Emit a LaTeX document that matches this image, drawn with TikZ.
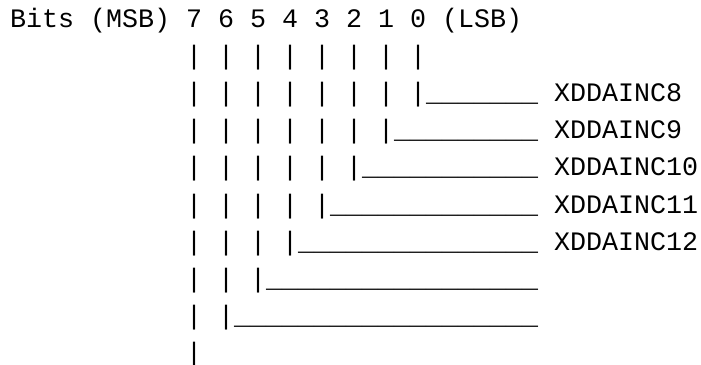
\documentclass[tikz,border=0pt]{standalone}
\usepackage{fontspec}
\setmonofont{Liberation Mono}
\begin{document}
\begin{tikzpicture}[x=16pt,y=-37.2pt,
    every node/.style={font=\ttfamily\fontsize{26.67}{30}\selectfont,inner sep=0pt,anchor=base west}]
  \useasboundingbox (-0.625,-0.726) rectangle (43.1875,9.059);
  % header line
  \node (msb) at (0,0) {Bits (MSB)};
  \node (lsb) at (27,0) {(LSB)};
  \foreach \b in {0,...,7} {
    \pgfmathtruncatemacro{\c}{25-2*\b}
    \node (bit\b) at (\c,0) {\b};
    % bars run down until the bit turns right
    \pgfmathtruncatemacro{\last}{\b==7 ? 9 : \b+2}
    \foreach \r in {1,...,\last}
      \node (bar\b-\r) at (\c,\r) {|};
  }
  % underscores out to the labels
  \foreach \b in {0,...,6} {
    \pgfmathtruncatemacro{\c}{26-2*\b}
    \pgfmathtruncatemacro{\n}{33-\c}
    \pgfmathtruncatemacro{\r}{\b+2}
    \node (rule\b) at (\c,\r) {\foreach \i in {1,...,\n}{\_}};
  }
  \foreach \b in {0,...,4} {
    \pgfmathtruncatemacro{\r}{\b+2}
    \pgfmathtruncatemacro{\k}{\b+8}
    \node (inc\k) at (34,\r) {XDDAINC\k};
  }
\end{tikzpicture}
\end{document}
